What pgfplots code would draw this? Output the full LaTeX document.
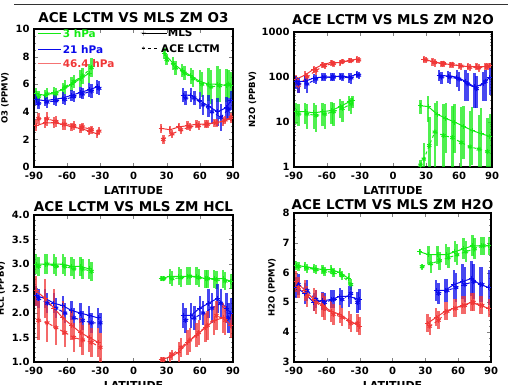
\documentclass[border=0pt]{standalone}
\usepackage{pgfplots}
\pgfplotsset{compat=1.18}
\usepackage{fontspec}
\setmainfont{DejaVu Sans}
\definecolor{cg}{RGB}{20,235,20}
\definecolor{cb}{RGB}{10,10,235}
\definecolor{cr}{RGB}{240,55,55}
\pgfplotsset{
 panel/.style={scale only axis, xmin=-90, xmax=90, xtick={-90,-60,-30,0,30,60,90},
   tick align=inside, major tick length=4pt, minor tick length=2pt,
   axis line style={line width=1.1pt},
   /pgf/number format/assume math mode=true, /pgf/number format/1000 sep={},
   tick label style={font=\fontsize{10}{11}\selectfont\bfseries},
   xticklabel style={yshift=-2pt}, yticklabel style={xshift=-1pt},
   title style={font=\fontsize{13.5}{14}\selectfont\bfseries, yshift=-3pt},
   xlabel={LATITUDE}, xlabel style={font=\fontsize{11}{12}\selectfont\bfseries, yshift=0pt},
   ylabel style={font=\fontsize{8.5}{9}\selectfont\bfseries},
   clip=true},
 eb/.style={error bars/y dir=both, error bars/y explicit, error bars/error mark=none,
   error bars/error bar style={solid, line width=2.4pt, opacity=0.75}},
 mls/.style={solid, line width=1pt, mark=+, mark size=2.5pt, mark options={solid}, forget plot, eb},
 ace/.style={dashed, line width=1pt, mark=asterisk, mark size=2.5pt, mark options={solid}, forget plot, eb},
}
\begin{document}
\begin{tikzpicture}
\useasboundingbox (0,0) rectangle (508pt,-384pt);
\draw[line width=0.9pt, black!80] (14pt,-4pt) -- (508pt,-4pt);
% ---------------- O3
\begin{axis}[panel, at={(34pt,-29pt)}, anchor=north west, width=199pt, height=138pt,
  ymin=0, ymax=10, ytick={0,2,4,6,8,10}, minor y tick num=3,
  title={ACE LCTM VS MLS ZM O3}, ylabel={O3 (PPMV)}]
\addplot[mls,cg] coordinates {(-88,5.3)+-(0,0.4) (-80,5.2)+-(0,0.4) (-72,5.4)+-(0,0.4) (-64,5.6)+-(0,0.5) (-56,6.0)+-(0,0.5) (-48,6.4)+-(0,0.6) (-40,6.8)+-(0,0.7)};
\addplot[ace,cg] coordinates {(-86,5.1)+-(0,0.4) (-78,5.3)+-(0,0.4) (-70,5.3)+-(0,0.4) (-62,5.8)+-(0,0.5) (-54,6.2)+-(0,0.5) (-46,6.6)+-(0,0.6) (-38,7.2)+-(0,0.7)};
\addplot[mls,cg] coordinates {(28,8.2)+-(0,0.4) (36,7.5)+-(0,0.5) (44,7.0)+-(0,0.5) (52,6.6)+-(0,0.6) (60,6.2)+-(0,0.8) (68,6.0)+-(0,1.2) (76,6.0)+-(0,1.3) (84,5.9)+-(0,1.2) (88,5.9)+-(0,1.0)};
\addplot[ace,cg] coordinates {(30,7.8)+-(0,0.4) (38,7.2)+-(0,0.5) (46,6.8)+-(0,0.5) (54,6.4)+-(0,0.6) (62,6.0)+-(0,0.9) (70,5.8)+-(0,1.2) (78,5.9)+-(0,1.2) (86,6.0)+-(0,1.0)};
\addplot[mls,cb] coordinates {(-88,4.9)+-(0,0.4) (-80,4.8)+-(0,0.4) (-72,4.9)+-(0,0.4) (-64,5.0)+-(0,0.4) (-56,5.2)+-(0,0.4) (-48,5.4)+-(0,0.4) (-40,5.6)+-(0,0.5) (-33,5.8)+-(0,0.5)};
\addplot[ace,cb] coordinates {(-86,4.6)+-(0,0.4) (-78,4.7)+-(0,0.4) (-70,4.8)+-(0,0.4) (-62,4.9)+-(0,0.4) (-54,5.1)+-(0,0.4) (-46,5.3)+-(0,0.4) (-38,5.5)+-(0,0.5) (-31,5.7)+-(0,0.5)};
\addplot[mls,cb] coordinates {(45,5.2)+-(0,0.5) (52,5.2)+-(0,0.5) (60,4.8)+-(0,0.6) (68,4.4)+-(0,0.8) (76,4.0)+-(0,1.0) (84,4.3)+-(0,0.8) (88,4.8)+-(0,0.7)};
\addplot[ace,cb] coordinates {(47,5.0)+-(0,0.5) (55,5.0)+-(0,0.5) (63,4.5)+-(0,0.7) (71,4.0)+-(0,0.9) (79,3.6)+-(0,1.0) (86,4.2)+-(0,0.8)};
\addplot[mls,cr] coordinates {(-88,3.0)+-(0,0.4) (-80,3.2)+-(0,0.4) (-72,3.2)+-(0,0.4) (-64,3.1)+-(0,0.4) (-56,2.9)+-(0,0.3) (-48,2.8)+-(0,0.3) (-40,2.6)+-(0,0.3) (-33,2.4)+-(0,0.3)};
\addplot[ace,cr] coordinates {(-86,3.5)+-(0,0.4) (-78,3.5)+-(0,0.5) (-70,3.3)+-(0,0.4) (-62,3.1)+-(0,0.4) (-54,3.0)+-(0,0.3) (-46,2.9)+-(0,0.3) (-38,2.7)+-(0,0.3) (-31,2.6)+-(0,0.3)};
\addplot[mls,cr] coordinates {(25,2.8)+-(0,0.3) (33,2.7)+-(0,0.3) (41,2.9)+-(0,0.3) (49,3.0)+-(0,0.3) (57,3.1)+-(0,0.3) (65,3.1)+-(0,0.3) (73,3.2)+-(0,0.3) (81,3.3)+-(0,0.3) (88,3.5)+-(0,0.3)};
\addplot[ace,cr] coordinates {(27,2.0)+-(0,0.3) (35,2.4)+-(0,0.3) (43,2.7)+-(0,0.3) (51,2.9)+-(0,0.3) (59,3.0)+-(0,0.3) (67,3.1)+-(0,0.3) (75,3.2)+-(0,0.3) (83,3.4)+-(0,0.3) (88,3.6)+-(0,0.3)};
% legend
\draw[cg, line width=1.2pt] (axis cs:-86,9.7) -- (axis cs:-66,9.7);
\node[anchor=west, text=cg, font=\fontsize{10.5}{11}\selectfont\bfseries, inner sep=1pt] at (axis cs:-65,9.7) {3 hPa};
\draw[cb, line width=1.2pt] (axis cs:-86,8.5) -- (axis cs:-66,8.5);
\node[anchor=west, text=cb, font=\fontsize{10.5}{11}\selectfont\bfseries, inner sep=1pt] at (axis cs:-65,8.5) {21 hPa};
\draw[cr!70, line width=1.2pt] (axis cs:-86,7.5) -- (axis cs:-66,7.5);
\node[anchor=west, text=cr, font=\fontsize{10.5}{11}\selectfont\bfseries, inner sep=1pt] at (axis cs:-65,7.5) {46.4 hPa};
\draw[black, line width=1pt] (axis cs:8,9.7) -- (axis cs:30,9.7);
\node[black, font=\fontsize{8}{8}\selectfont] at (axis cs:9,9.7) {$+$};
\node[anchor=west, font=\fontsize{10.5}{11}\selectfont\bfseries, inner sep=1pt] at (axis cs:30,9.7) {MLS};
\draw[black, line width=1pt, dashed] (axis cs:8,8.6) -- (axis cs:24,8.6);
\node[black, font=\fontsize{8}{8}\selectfont] at (axis cs:9,8.6) {$\ast$};
\node[anchor=west, font=\fontsize{10.5}{11}\selectfont\bfseries, inner sep=1pt] at (axis cs:24,8.6) {ACE LCTM};
\end{axis}
% ---------------- N2O
\begin{axis}[panel, at={(294pt,-32pt)}, anchor=north west, width=198pt, height=135pt,
  ymode=log, ymin=1, ymax=1000, ytick={1,10,100,1000}, log ticks with fixed point,
  title={ACE LCTM VS MLS ZM N2O}, title style={yshift=1pt}, ylabel={N2O (PPBV)},
  ylabel style={at={(axis description cs:-0.21,0.5)}, anchor=center}]
\addplot[mls,cr] coordinates {(-88,90)+=(0,20)-=(0,20) (-80,110)+=(0,25)-=(0,25) (-72,150)+=(0,30)-=(0,30) (-64,190)+=(0,30)-=(0,30) (-56,210)+=(0,30)-=(0,30) (-48,210)+=(0,30)-=(0,30) (-40,230)+=(0,30)-=(0,30) (-33,250)+=(0,40)-=(0,40)};
\addplot[ace,cr] coordinates {(-86,65)+=(0,20)-=(0,20) (-78,100)+=(0,25)-=(0,25) (-70,140)+=(0,30)-=(0,30) (-62,180)+=(0,30)-=(0,30) (-54,200)+=(0,30)-=(0,30) (-46,220)+=(0,30)-=(0,30) (-38,230)+=(0,30)-=(0,30) (-31,240)+=(0,40)-=(0,40)};
\addplot[mls,cr] coordinates {(28,250)+=(0,40)-=(0,40) (36,220)+=(0,40)-=(0,40) (44,200)+=(0,30)-=(0,30) (52,190)+=(0,30)-=(0,30) (60,180)+=(0,30)-=(0,30) (68,170)+=(0,30)-=(0,30) (76,170)+=(0,30)-=(0,30) (84,170)+=(0,30)-=(0,30) (88,180)+=(0,30)-=(0,30)};
\addplot[ace,cr] coordinates {(30,240)+=(0,40)-=(0,40) (38,210)+=(0,40)-=(0,40) (46,200)+=(0,30)-=(0,30) (54,190)+=(0,30)-=(0,30) (62,175)+=(0,30)-=(0,30) (70,165)+=(0,30)-=(0,30) (78,160)+=(0,30)-=(0,30) (86,170)+=(0,30)-=(0,30)};
\addplot[mls,cb] coordinates {(-88,80)+=(0,25)-=(0,25) (-80,80)+=(0,25)-=(0,25) (-72,95)+=(0,20)-=(0,20) (-64,100)+=(0,20)-=(0,20) (-56,100)+=(0,20)-=(0,20) (-48,105)+=(0,20)-=(0,20) (-40,100)+=(0,25)-=(0,25) (-33,115)+=(0,20)-=(0,20)};
\addplot[ace,cb] coordinates {(-86,70)+=(0,25)-=(0,25) (-78,70)+=(0,25)-=(0,25) (-70,90)+=(0,20)-=(0,20) (-62,100)+=(0,20)-=(0,20) (-54,100)+=(0,20)-=(0,20) (-46,100)+=(0,20)-=(0,20) (-38,95)+=(0,25)-=(0,25) (-31,110)+=(0,20)-=(0,20)};
\addplot[mls,cb] coordinates {(42,110)+=(0,30)-=(0,30) (50,105)+=(0,30)-=(0,30) (58,100)+=(0,40)-=(0,40) (66,80)+=(0,60)-=(0,50) (74,60)+=(0,60)-=(0,40) (82,70)+=(0,60)-=(0,40) (88,100)+=(0,60)-=(0,60)};
\addplot[ace,cb] coordinates {(44,100)+=(0,30)-=(0,30) (52,100)+=(0,30)-=(0,30) (60,90)+=(0,40)-=(0,40) (68,70)+=(0,50)-=(0,40) (76,55)+=(0,50)-=(0,35) (84,80)+=(0,60)-=(0,50)};
\addplot[mls,cg] coordinates {(-88,17)+=(0,10)-=(0,8) (-80,17)+=(0,10)-=(0,8) (-72,16)+=(0,10)-=(0,9) (-64,17)+=(0,10)-=(0,9) (-56,18)+=(0,10)-=(0,9) (-48,22)+=(0,10)-=(0,10) (-40,28)+=(0,10)-=(0,10) (-37,30)+=(0,8)-=(0,10)};
\addplot[ace,cg] coordinates {(-86,15)+=(0,10)-=(0,7) (-78,15)+=(0,10)-=(0,8) (-70,14)+=(0,10)-=(0,8) (-62,15)+=(0,10)-=(0,8) (-54,17)+=(0,10)-=(0,9) (-46,20)+=(0,10)-=(0,10) (-38,25)+=(0,10)-=(0,10)};
\addplot[mls,cg] coordinates {(25,23)+=(0,8)-=(0,8) (32,22)+=(0,15)-=(0,12) (40,15)+=(0,15)-=(0,12) (48,12)+=(0,15)-=(0,10) (56,10)+=(0,15)-=(0,8) (64,8)+=(0,15)-=(0,6.5) (72,6.5)+=(0,15)-=(0,5.4) (80,5.5)+=(0,15)-=(0,4.5) (88,4.8)+=(0,10)-=(0,3.8)};
\addplot[ace,cg] coordinates {(25,1.1)+=(0,0.3)-=(0,0.1) (28,1.5)+=(0,2)-=(0,0.5) (33,3)+=(0,10)-=(0,2) (38,6)+=(0,20)-=(0,5) (46,5)+=(0,20)-=(0,4) (54,4.5)+=(0,18)-=(0,3.5) (62,3.5)+=(0,18)-=(0,2.5) (70,2.8)+=(0,15)-=(0,1.8) (78,2.5)+=(0,12)-=(0,1.5) (86,2.2)+=(0,10)-=(0,1.2)};
\end{axis}
% ---------------- HCL
\begin{axis}[panel, at={(34pt,-215pt)}, anchor=north west, width=199pt, height=147pt,
  ymin=1, ymax=4, ytick={1,1.5,2,2.5,3,3.5,4}, minor y tick num=4,
  yticklabel style={/pgf/number format/.cd, fixed, fixed zerofill, precision=1},
  title={ACE LCTM VS MLS ZM HCL}, title style={yshift=-3pt}, ylabel={HCL (PPBV)}]
\addplot[mls,cg] coordinates {(-88,3.0)+-(0,0.2) (-80,3.0)+-(0,0.2) (-72,3.0)+-(0,0.2) (-64,3.0)+-(0,0.2) (-56,2.95)+-(0,0.2) (-48,2.95)+-(0,0.2) (-40,2.9)+-(0,0.2)};
\addplot[ace,cg] coordinates {(-86,2.95)+-(0,0.2) (-78,3.0)+-(0,0.2) (-70,2.95)+-(0,0.2) (-62,2.95)+-(0,0.2) (-54,2.9)+-(0,0.2) (-46,2.9)+-(0,0.2) (-38,2.85)+-(0,0.2)};
\addplot[mls,cg] coordinates {(25,2.7)+-(0,0.05) (33,2.75)+-(0,0.15) (41,2.75)+-(0,0.18) (49,2.75)+-(0,0.18) (57,2.75)+-(0,0.18) (65,2.7)+-(0,0.18) (73,2.7)+-(0,0.18) (81,2.7)+-(0,0.18) (88,2.65)+-(0,0.15)};
\addplot[ace,cg] coordinates {(27,2.7)+-(0,0.05) (35,2.7)+-(0,0.15) (43,2.72)+-(0,0.18) (51,2.75)+-(0,0.18) (59,2.72)+-(0,0.18) (67,2.7)+-(0,0.18) (75,2.68)+-(0,0.18) (83,2.65)+-(0,0.18)};
\addplot[mls,cb] coordinates {(-88,2.35)+-(0,0.2) (-80,2.3)+-(0,0.2) (-72,2.2)+-(0,0.2) (-64,2.15)+-(0,0.2) (-56,2.05)+-(0,0.2) (-48,2.0)+-(0,0.2) (-40,1.95)+-(0,0.2) (-32,1.9)+-(0,0.2)};
\addplot[ace,cb] coordinates {(-86,2.3)+-(0,0.2) (-78,2.2)+-(0,0.2) (-70,2.1)+-(0,0.2) (-62,2.0)+-(0,0.2) (-54,1.9)+-(0,0.2) (-46,1.85)+-(0,0.2) (-38,1.8)+-(0,0.2) (-30,1.8)+-(0,0.2)};
\addplot[mls,cb] coordinates {(45,1.95)+-(0,0.25) (52,1.95)+-(0,0.25) (60,2.1)+-(0,0.25) (68,2.2)+-(0,0.3) (76,2.3)+-(0,0.3) (84,2.1)+-(0,0.3) (88,2.0)+-(0,0.3)};
\addplot[ace,cb] coordinates {(47,1.85)+-(0,0.25) (55,1.9)+-(0,0.25) (63,2.0)+-(0,0.25) (71,2.1)+-(0,0.3) (79,2.2)+-(0,0.3) (86,1.9)+-(0,0.3)};
\addplot[mls,cr] coordinates {(-88,2.45)+-(0,0.3) (-80,2.3)+-(0,0.4) (-72,2.1)+-(0,0.4) (-64,1.9)+-(0,0.35) (-56,1.75)+-(0,0.3) (-48,1.6)+-(0,0.3) (-40,1.5)+-(0,0.3) (-32,1.4)+-(0,0.3)};
\addplot[ace,cr] coordinates {(-86,1.85)+-(0,0.4) (-78,1.8)+-(0,0.4) (-70,1.7)+-(0,0.35) (-62,1.6)+-(0,0.3) (-54,1.5)+-(0,0.3) (-46,1.45)+-(0,0.3) (-38,1.4)+-(0,0.3) (-30,1.3)+-(0,0.3)};
\addplot[mls,cr] coordinates {(25,1.05)+-(0,0.05) (33,1.1)+-(0,0.1) (41,1.2)+-(0,0.2) (49,1.4)+-(0,0.25) (57,1.55)+-(0,0.25) (65,1.7)+-(0,0.3) (73,1.85)+-(0,0.3) (81,1.9)+-(0,0.3) (88,1.75)+-(0,0.25)};
\addplot[ace,cr] coordinates {(27,1.05)+-(0,0.05) (35,1.15)+-(0,0.1) (43,1.3)+-(0,0.2) (51,1.45)+-(0,0.25) (59,1.6)+-(0,0.25) (67,1.75)+-(0,0.3) (75,1.95)+-(0,0.3) (83,1.85)+-(0,0.3)};
\end{axis}
% ---------------- H2O
\begin{axis}[panel, at={(294pt,-213pt)}, anchor=north west, width=197pt, height=149pt,
  ymin=3, ymax=8, ytick={3,4,5,6,7,8}, minor y tick num=4,
  title={ACE LCTM VS MLS ZM H2O}, title style={yshift=-3pt}, ylabel={H2O (PPMV)}]
\addplot[mls,cg] coordinates {(-88,6.25)+-(0,0.15) (-80,6.2)+-(0,0.15) (-72,6.15)+-(0,0.15) (-64,6.1)+-(0,0.15) (-56,6.1)+-(0,0.15) (-48,6.0)+-(0,0.15) (-40,5.8)+-(0,0.2)};
\addplot[ace,cg] coordinates {(-86,6.2)+-(0,0.15) (-78,6.15)+-(0,0.15) (-70,6.1)+-(0,0.15) (-62,6.05)+-(0,0.15) (-54,6.0)+-(0,0.15) (-46,5.9)+-(0,0.15) (-38,5.6)+-(0,0.2)};
\addplot[mls,cg] coordinates {(25,6.7)+-(0,0.1) (33,6.6)+-(0,0.3) (41,6.6)+-(0,0.3) (49,6.6)+-(0,0.35) (57,6.7)+-(0,0.35) (65,6.8)+-(0,0.35) (73,6.9)+-(0,0.35) (81,6.9)+-(0,0.3) (88,6.9)+-(0,0.3)};
\addplot[ace,cg] coordinates {(27,6.2)+-(0,0.1) (35,6.3)+-(0,0.3) (43,6.4)+-(0,0.3) (51,6.5)+-(0,0.35) (59,6.6)+-(0,0.35) (67,6.7)+-(0,0.35) (75,6.8)+-(0,0.35) (83,6.9)+-(0,0.3)};
\addplot[mls,cb] coordinates {(-88,5.5)+-(0,0.35) (-80,5.3)+-(0,0.35) (-72,5.0)+-(0,0.3) (-64,5.05)+-(0,0.3) (-56,5.1)+-(0,0.3) (-48,5.2)+-(0,0.3) (-40,5.2)+-(0,0.35) (-30,5.1)+-(0,0.35)};
\addplot[ace,cb] coordinates {(-86,5.6)+-(0,0.35) (-78,5.4)+-(0,0.35) (-70,5.1)+-(0,0.3) (-62,5.0)+-(0,0.3) (-54,5.1)+-(0,0.3) (-46,5.1)+-(0,0.3) (-38,5.3)+-(0,0.35) (-32,5.0)+-(0,0.35)};
\addplot[mls,cb] coordinates {(40,5.4)+-(0,0.35) (48,5.4)+-(0,0.4) (56,5.6)+-(0,0.5) (64,5.7)+-(0,0.6) (72,5.8)+-(0,0.6) (80,5.6)+-(0,0.6) (88,5.5)+-(0,0.6)};
\addplot[ace,cb] coordinates {(42,5.3)+-(0,0.35) (50,5.4)+-(0,0.4) (58,5.5)+-(0,0.5) (66,5.6)+-(0,0.6) (74,5.7)+-(0,0.6) (82,5.6)+-(0,0.6)};
\addplot[mls,cr] coordinates {(-88,5.7)+-(0,0.35) (-80,5.4)+-(0,0.35) (-72,5.1)+-(0,0.4) (-64,4.9)+-(0,0.4) (-56,4.7)+-(0,0.35) (-48,4.6)+-(0,0.3) (-40,4.4)+-(0,0.3) (-30,4.2)+-(0,0.3)};
\addplot[ace,cr] coordinates {(-86,5.5)+-(0,0.35) (-78,5.2)+-(0,0.35) (-70,5.0)+-(0,0.4) (-62,4.8)+-(0,0.4) (-54,4.6)+-(0,0.35) (-46,4.5)+-(0,0.3) (-38,4.3)+-(0,0.3) (-32,4.3)+-(0,0.3)};
\addplot[mls,cr] coordinates {(32,4.3)+-(0,0.3) (40,4.5)+-(0,0.3) (48,4.7)+-(0,0.3) (56,4.8)+-(0,0.3) (64,4.9)+-(0,0.3) (72,5.0)+-(0,0.3) (80,4.9)+-(0,0.3) (88,4.8)+-(0,0.3)};
\addplot[ace,cr] coordinates {(34,4.2)+-(0,0.3) (42,4.4)+-(0,0.3) (50,4.7)+-(0,0.3) (58,4.8)+-(0,0.3) (66,4.9)+-(0,0.3) (74,5.0)+-(0,0.3) (82,4.9)+-(0,0.3)};
\end{axis}
\end{tikzpicture}
\end{document}
